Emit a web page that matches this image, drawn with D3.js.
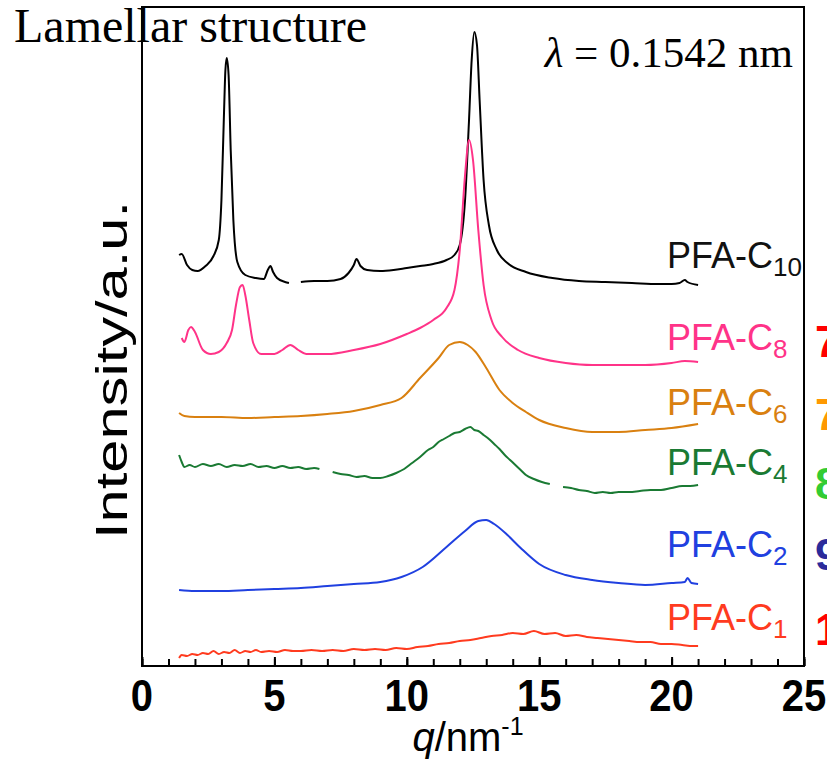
<!DOCTYPE html>
<html><head><meta charset="utf-8">
<script src="https://cdn.jsdelivr.net/npm/d3@7"></script>
<style>body{margin:0;background:#fff}</style>
</head><body>
<svg id="c" width="827" height="761"></svg>
<script>
// ---------- data ----------
const xTicks = [0, 5, 10, 15, 20, 25];
const xMinorTicks = d3.range(0, 26);
const seriesNames = ["PFA-C10", "PFA-C8", "PFA-C6", "PFA-C4", "PFA-C2", "PFA-C1"];
const labelMain = ["PFA-C", "PFA-C", "PFA-C", "PFA-C", "PFA-C", "PFA-C"];
const labelSub = ["10", "8", "6", "4", "2", "1"];
const sideDigits = ["7", "7", "8", "9", "1"];

const qC10 = [1.4,1.5,1.7,1.9,2.1,2.4,2.7,2.9,3.0,3.1,3.15,3.2,3.27,3.35,3.45,3.6,3.9,4.3,4.6,4.75,4.85,4.95,5.1,5.4,5.55,5.8,6.0,6.5,7.0,7.5,7.8,8.0,8.1,8.25,8.5,9.0,9.5,10.0,10.5,11.0,11.5,11.8,12.0,12.2,12.35,12.45,12.55,12.65,12.75,12.9,13.1,13.4,13.8,14.5,15.5,16.5,17.5,18.5,19.5,20.0,20.3,20.5,20.6,21.0];
const iC10 = [411,412,401,396,395,400,410,426,466,556,596,608,591,516,446,404,391,388,387,396,400,394,388,384,383,null,384,385,385,387,393,401,407,400,396,395,396,398,400,402,406,411,421,466,546,606,634,621,566,486,441,416,403,394,388,385,384,383,382,382,383,386,384,381];

const qC8 = [1.5,1.6,1.75,1.85,2.0,2.3,2.6,2.9,3.2,3.4,3.55,3.7,3.8,3.9,4.05,4.2,4.5,5.0,5.3,5.6,5.9,6.2,7.0,8.0,9.0,10.0,10.5,11.0,11.5,11.8,12.0,12.2,12.35,12.5,12.7,12.9,13.2,13.6,14.2,15.0,16.0,17.0,18.0,19.0,20.0,20.5,21.0];
const iC8 = [328,324,336,339,334,316,312,314,323,336,361,379,381,371,346,323,312,312,316,321,316,312,312,316,322,332,338,346,358,376,416,491,526,506,436,381,346,329,316,308,303,301,301,301,303,305,304];

const qC6 = [1.4,1.6,2.0,3.0,4.0,5.0,6.0,7.0,8.0,9.0,9.8,10.5,11.2,11.6,12.0,12.3,12.6,13.0,13.5,14.0,14.5,15.0,16.0,17.0,18.0,19.0,20.0,21.0];
const iC6 = [253,250,249,249,248,249,250,252,255,261,268,288,308,321,324,321,314,298,276,263,254,246,238,234,234,236,238,242];

const qC4 = [1.4,1.5,1.6,1.8,2.0,2.3,2.6,2.9,3.2,3.5,3.8,4.1,4.4,4.7,5.0,5.3,5.6,5.9,6.2,6.5,6.7,6.9,7.2,7.5,7.8,8.1,8.4,8.7,9.0,9.3,9.6,9.9,10.2,10.5,10.8,11.0,11.2,11.4,11.6,11.8,12.0,12.2,12.4,12.55,12.7,12.9,13.1,13.3,13.5,13.7,13.9,14.1,14.3,14.5,14.8,15.1,15.4,15.6,15.9,16.2,16.5,16.8,17.1,17.4,17.7,18.0,18.4,18.8,19.2,19.6,20.0,20.4,20.7,21.0];
const iC4 = [211,204,199,201,199,202,200,202,199,201,200,202,199,200,198,200,198,199,197,198,197,null,194,192,191,189,190,188,188,190,193,197,203,209,216,219,224,227,230,233,234,237,239,236,235,231,227,222,217,211,206,201,196,191,187,184,182,null,179,178,176,175,173,174,173,174,174,175,176,176,178,180,180,181];

const qC2 = [1.4,2.0,3.0,4.0,5.0,6.0,7.0,8.0,9.0,9.8,10.6,11.5,12.2,12.7,13.0,13.3,13.8,14.3,15.0,16.0,17.0,18.0,19.0,20.0,20.5,20.6,20.75,21.0];
const iC2 = [76,75,75,76,77,78,80,82,84,89,99,119,135,145,146,142,131,118,102,91,86,83,81,83,84,88,83,82];

const qC1 = [1.4,1.5,1.7,1.9,2.1,2.3,2.5,2.7,2.9,3.1,3.3,3.5,3.7,3.9,4.1,4.3,4.5,4.8,5.1,5.4,5.7,6.0,6.4,6.8,7.2,7.6,8.0,8.4,8.8,9.2,9.6,10.0,10.4,10.8,11.2,11.6,12.0,12.4,12.8,13.2,13.6,14.0,14.4,14.8,15.2,15.6,16.0,16.4,16.8,17.2,17.6,18.0,18.4,18.8,19.2,19.6,20.0,20.4,20.8,21.0];
const iC1 = [8,11,10,12,11,13,12,15,12,14,13,16,13,15,14,16,14,15,14,16,15,15,16,15,16,15,17,16,17,16,18,17,19,20,22,23,25,26,28,30,31,33,32,35,32,33,30,31,29,28,27,26,25,24,24,22,22,21,20,20];

const seriesQ = [qC10, qC8, qC6, qC4, qC2, qC1];
const seriesI = [iC10, iC8, iC6, iC4, iC2, iC1];

// ---------- styles / layout ----------
const colors = ["#000000", "#ff3388", "#d98010", "#1a7a33", "#2040e0", "#ff3b1f"];
const labelColors = ["#111111", "#ff3388", "#d98010", "#1a7a33", "#2040e0", "#ff3b1f"];
const labelBaselines = [268, 350, 415, 475, 557, 630];
const sideColors = ["#ff0000", "#ff9900", "#33cc33", "#2b2b9b", "#ff0000"];
const sideBaselines = [357, 430, 499, 570, 645];

const W = 827, H = 761;
const plot = {left: 142, right: 804, top: 7, bottom: 666};
const svg = d3.select("#c");
svg.append("rect").attr("width", W).attr("height", H).attr("fill", "#fff");

const x = d3.scaleLinear().domain([0, 25]).range([plot.left, plot.right]);
const y = d3.scaleLinear().domain([0, 659]).range([plot.bottom, plot.top]);

svg.append("defs").append("clipPath").attr("id", "pc")
  .append("rect").attr("x", plot.left).attr("y", plot.top)
  .attr("width", plot.right - plot.left).attr("height", plot.bottom - plot.top);

// curves
const line = d3.line().defined(d => d[1] != null).curve(d3.curveMonotoneX)
  .x(d => x(d[0])).y(d => y(d[1]));
seriesQ.forEach((qs, k) => {
  const pts = qs.map((q, j) => [q, seriesI[k][j]]);
  svg.append("path").datum(pts).attr("d", line)
    .attr("fill", "none").attr("stroke", colors[k]).attr("stroke-width", 2)
    .attr("stroke-linejoin", "round");
});

// axes ticks (inside)
const gx = svg.append("g").attr("transform", `translate(0,${plot.bottom})`);
gx.call(d3.axisBottom(x).tickValues(xMinorTicks).tickFormat("").tickSizeInner(-7).tickSizeOuter(0));
gx.call(g => g.select(".domain").remove());
gx.selectAll(".tick line").attr("stroke", "#000").attr("stroke-width", 2);
const gx2 = svg.append("g").attr("transform", `translate(0,${plot.bottom})`);
gx2.call(d3.axisBottom(x).tickValues(xTicks).tickFormat("").tickSizeInner(-9).tickSizeOuter(0));
gx2.call(g => g.select(".domain").remove());
gx2.selectAll(".tick line").attr("stroke", "#000").attr("stroke-width", 2);

// tick labels
xTicks.forEach(t => {
  svg.append("g").attr("transform", `translate(${x(t)},711)`)
    .append("text").attr("transform", "scale(1,1.12)")
    .attr("text-anchor", "middle").attr("font-family", "Liberation Sans, Arial, sans-serif")
    .attr("font-weight", "bold").attr("font-size", 40).attr("fill", "#000").text(t);
});

// frame
svg.append("rect").attr("x", plot.left).attr("y", plot.top)
  .attr("width", plot.right - plot.left).attr("height", plot.bottom - plot.top)
  .attr("fill", "none").attr("stroke", "#000").attr("stroke-width", 2);

// series labels
const lg = svg.append("g").attr("clip-path", "url(#pc)");
labelMain.forEach((m, k) => {
  const t = lg.append("text").attr("x", 667).attr("y", labelBaselines[k])
    .attr("font-family", "Liberation Sans, Arial, sans-serif").attr("font-size", 36)
    .attr("fill", labelColors[k]);
  t.append("tspan").text(m);
  t.append("tspan").attr("font-size", 26).attr("dy", 8).text(labelSub[k]);
});

// side digits (cut off by the page edge)
sideDigits.forEach((d, k) => {
  svg.append("text").attr("x", 815).attr("y", sideBaselines[k])
    .attr("font-family", "Liberation Sans, Arial, sans-serif").attr("font-weight", "bold")
    .attr("font-size", 44).attr("fill", sideColors[k]).text(d);
});

// title
svg.append("text").attr("x", 14).attr("y", 42)
  .attr("font-family", "Liberation Serif, Times New Roman, serif").attr("font-size", 48)
  .attr("fill", "#000").text("Lamellar structure");

// lambda
const lt = svg.append("text").attr("x", 793).attr("y", 67).attr("text-anchor", "end")
  .attr("font-family", "Liberation Serif, Times New Roman, serif").attr("font-size", 43).attr("fill", "#000");
lt.append("tspan").attr("font-style", "italic").text("λ");
lt.append("tspan").text(" = 0.1542 nm");

// x label
const xl = svg.append("text").attr("x", 468).attr("y", 751).attr("text-anchor", "middle")
  .attr("font-family", "Liberation Sans, Arial, sans-serif").attr("font-size", 40).attr("fill", "#000");
xl.append("tspan").attr("font-style", "italic").text("q");
xl.append("tspan").text("/nm");
xl.append("tspan").attr("font-size", 25).attr("dy", -16).text("-1");

// y label
svg.append("text").attr("transform", "translate(127,370) rotate(-90)")
  .attr("text-anchor", "middle").attr("font-family", "Liberation Sans, Arial, sans-serif")
  .attr("font-size", 44).attr("textLength", 338).attr("lengthAdjust", "spacingAndGlyphs")
  .attr("fill", "#000").text("Intensity/a.u.");
</script>
</body></html>
